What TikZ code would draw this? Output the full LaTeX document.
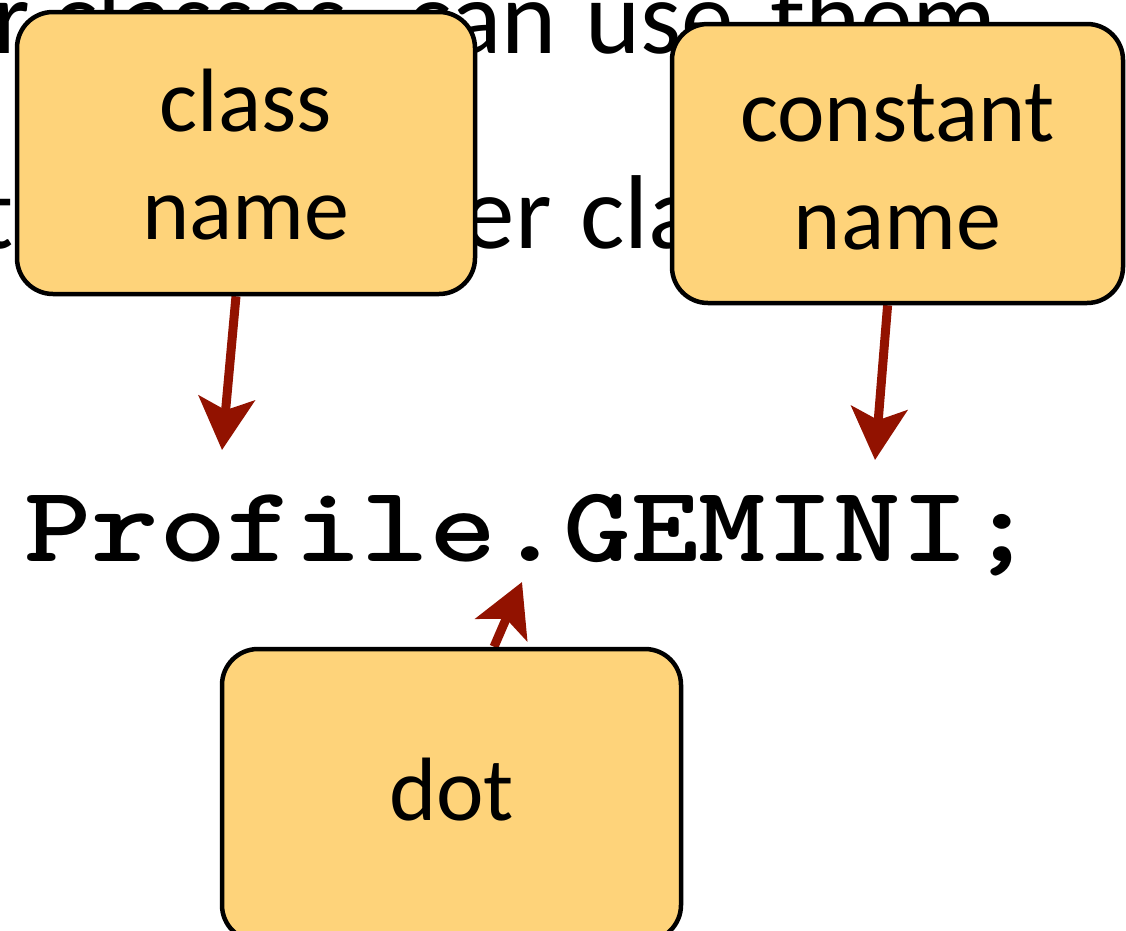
\documentclass[tikz,border=0pt]{standalone}
\usepackage{fontspec}
\setmainfont{Carlito}
\usepackage{graphicx}
\usetikzlibrary{arrows.meta}
\pgfdeclarelayer{background}
\pgfsetlayers{background,main}
\definecolor{boxfill}{RGB}{254,211,122}
\definecolor{arrowred}{RGB}{146,18,0}
\begin{document}
\begin{tikzpicture}[x=1pt,y=-1pt,
  bgtext/.style={inner sep=0pt, font=\fontsize{105}{105}\selectfont},
  callout/.style={draw=black, line width=4.5pt, fill=boxfill, rounded corners=36pt,
    inner sep=0pt, align=center, font=\fontsize{90}{108}\selectfont},
  pointer/.style={draw=arrowred, line width=9pt,
    -{Stealth[length=52pt,width=56pt,inset=12pt]}}
]
\useasboundingbox (0,0) rectangle (1126,930);
\clip (0,0) rectangle (1126,930);

% background slide text (partly covered)
\node[bgtext, anchor=base west] (w1) at (-7,53) {r classes};
\node[bgtext, anchor=base east] (w2) at (557,53) {can};
\node[bgtext, anchor=base west] (w3) at (585,53) {use};
\node[bgtext, anchor=base west] (w4) at (770,53) {them};
\node[bgtext, anchor=base west] (w5) at (-22,248) {t};
\node[bgtext, anchor=base east] (w6) at (552,248) {er};
\node[bgtext, anchor=base west] (w7) at (580,248) {cla};

% code line
\node[inner sep=0pt, anchor=base west] (code) at (24,561)
  {\scalebox{1.19}[1]{\fontsize{108}{108}\selectfont\ttfamily\bfseries Profile.GEMINI;}};

% callout boxes
\node[callout, minimum width=458pt, minimum height=282pt, text height=172pt, text depth=0pt] (b1) at (246,153) {class\\name};
\node[callout, minimum width=451pt, minimum height=279pt, text height=172pt, text depth=0pt] (b2) at (897.5,163.5) {constant\\name};
\node[callout, minimum width=459pt, minimum height=292pt, text height=63pt, text depth=13pt] (b3) at (451.5,795) {dot};

% arrow targets
\coordinate (t1) at (222,450);
\coordinate (t2) at (875,460);
\coordinate (t3) at (522,582);

\begin{pgfonlayer}{background}
\draw[pointer] (b1.266.4) -- (t1);
\draw[pointer] (b2.266.2) -- (t2);
\draw[pointer] (b3.74.6) -- (t3);
\end{pgfonlayer}
\end{tikzpicture}
\end{document}
